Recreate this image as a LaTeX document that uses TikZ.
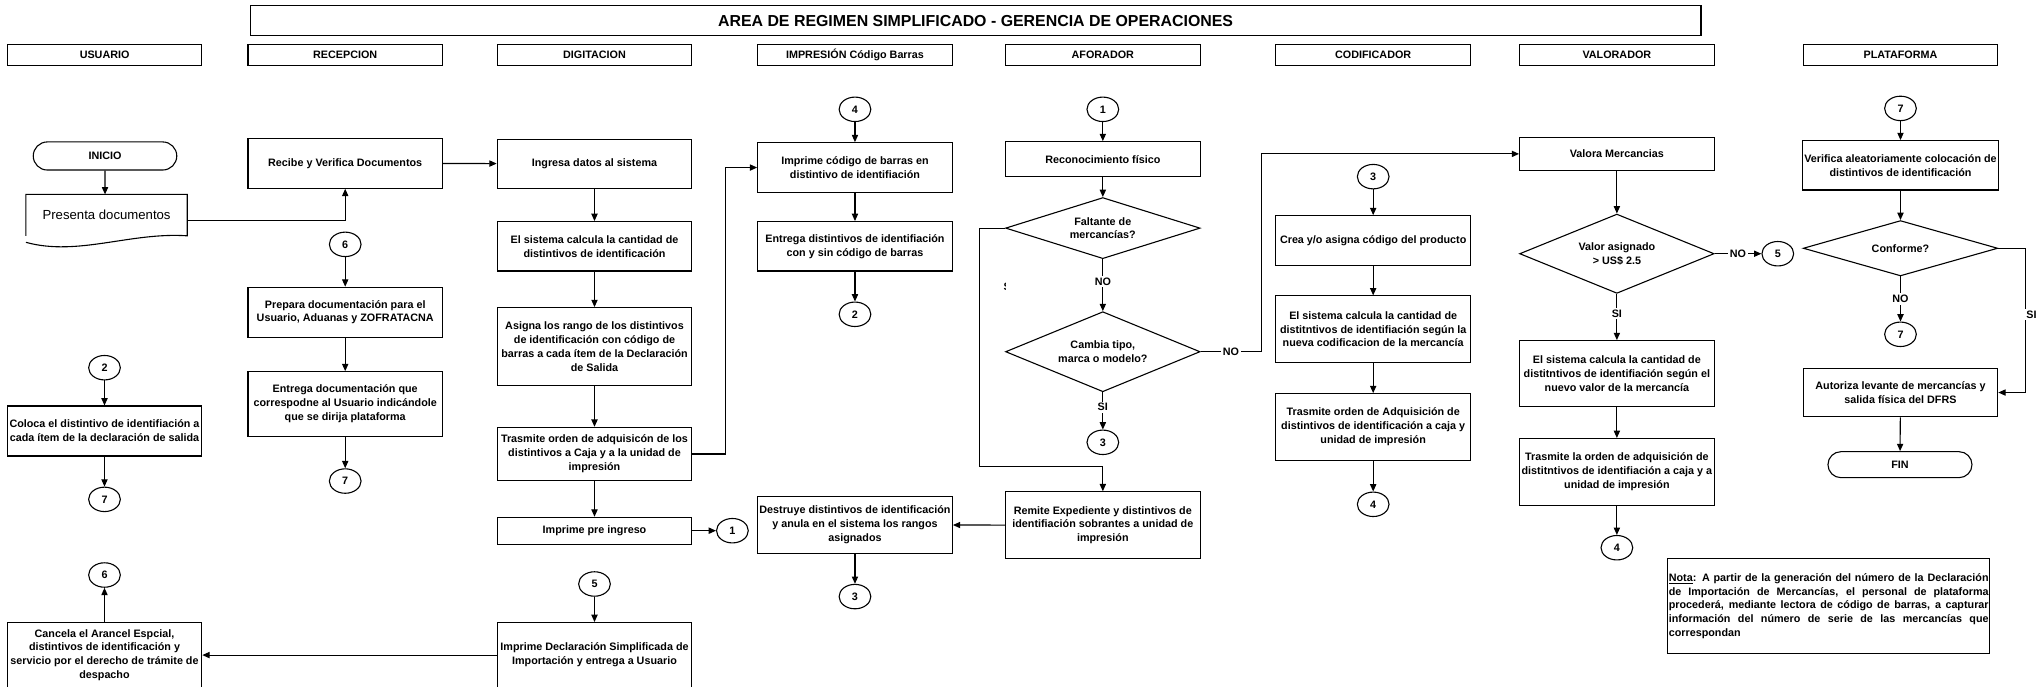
\documentclass[tikz,border=0pt]{standalone}
\usepackage{fontspec}
\setmainfont{Liberation Sans}
\usepackage{tikz}
\usetikzlibrary{shapes.geometric,shapes.misc,arrows.meta}
\newcommand{\fb}{\fontsize{5.9}{7.6}\selectfont\bfseries}

\tikzset{
	box/.style={draw, minimum width=3.74cm, inner sep=1pt, align=center, font=\fb},
	hdr/.style={draw, minimum width=3.74cm, minimum height=0.41cm, inner sep=1pt, font=\fb},
	dec/.style={draw, diamond, minimum width=3.74cm, inner sep=0pt, align=center, font=\fb},
	con/.style={draw, ellipse, minimum width=0.61cm, minimum height=0.47cm, inner sep=0pt, font=\fb},
	term/.style={draw, rounded rectangle, minimum width=2.83cm, minimum height=0.54cm, inner sep=1pt, font=\fb},
	lbl/.style={fill=white, inner sep=1pt, font=\fb}
}

\begin{document}
\begin{tikzpicture}[x=0.025cm, y=-0.025cm, line width=0.6pt, >={Triangle[length=4pt,width=3.4pt]}]
	\useasboundingbox (0,0) rectangle (1568,528);
	
	\node[draw, minimum width=27.9cm, minimum height=0.575cm, font=\fontsize{8.7}{10}\selectfont\bfseries] at (750.6,16) (tit) {AREA DE REGIMEN SIMPLIFICADO - GERENCIA DE OPERACIONES};
	
	\foreach \x/\t [count=\i] in {80.5/USUARIO, 265.6/RECEPCION, 457.4/DIGITACION, 657.8/IMPRESIÓN Código Barras, 848.5/AFORADOR, 1056.5/CODIFICADOR, 1244/VALORADOR, 1462.2/PLATAFORMA}
		\node[hdr] at (\x,42.2) (h\i) {\t};
	
	% usuario
	\node[term] at (80.8,120) (ini) {INICIO};
	\node[font=\fontsize{7.2}{8.6}\selectfont, minimum width=3.08cm, minimum height=0.775cm, inner sep=0pt] at (82,165.5) (pres) {Presenta documentos};
	\draw (pres.south west) -- (pres.north west) -- (pres.north east) -- (pres.south east)
		.. controls +(-1.09cm,0.075cm) and +(0.99cm,-0.275cm) .. ([yshift=-0.125cm]pres.south west);
	\node[con] at (80.4,282.9) (u2) {2};
	\node[box, minimum height=0.96cm] at (80.4,331.6) (u1) {Coloca el distintivo de identifiación a\\cada ítem de la declaración de salida};
	\node[con] at (80.4,384.2) (u7) {7};
	\node[con] at (80.4,442.4) (u6) {6};
	\node[box, minimum height=1.25cm] at (80.4,504) (u3) {Cancela el Arancel Espcial,\\distintivos de identificación y\\servicio por el derecho de trámite de\\despacho};
	
	% recepcion
	\node[box, minimum height=0.96cm] at (265.6,125.6) (r1) {Recibe y Verifica Documentos};
	\node[con] at (265.6,188) (r6) {6};
	\node[box, minimum height=0.96cm] at (265.6,240.2) (r2) {Prepara documentación para el\\Usuario, Aduanas y ZOFRATACNA};
	\node[box, minimum height=1.24cm] at (265.6,310.8) (r3) {Entrega documentación que\\correspodne al Usuario indicándole\\que se dirija plataforma};
	\node[con] at (265.6,370.1) (r7) {7};
	
	% digitacion
	\node[box, minimum height=0.95cm] at (457.4,126) (d1) {Ingresa datos al sistema};
	\node[box, minimum height=0.95cm] at (457.4,189.5) (d2) {El sistema calcula la cantidad de\\distintivos de identificación};
	\node[box, minimum height=1.5cm] at (457.4,266.7) (d3) {Asigna los rango de los distintivos\\de identificación con código de\\barras a cada ítem de la Declaración\\de Salida};
	\node[box, minimum height=1.025cm] at (457.4,349.3) (d4) {Trasmite orden de adquisicón de los\\distintivos a Caja y a la unidad de\\impresión};
	\node[box, minimum height=0.515cm] at (457.4,408.3) (d5) {Imprime pre ingreso};
	\node[con] at (563.5,408.3) (d1c) {1};
	\node[con] at (457.4,449.3) (d5c) {5};
	\node[box, minimum height=1.25cm] at (457.4,504) (d6) {Imprime Declaración Simplificada de\\Importación y entrega a Usuario};
	
	% impresion
	\node[con] at (657.8,84.1) (i4) {4};
	\node[box, minimum height=0.955cm] at (657.8,128.9) (i1) {Imprime código de barras en\\distintivo de identifiación};
	\node[box, minimum height=0.95cm] at (657.8,189.5) (i2) {Entrega distintivos de identifiación\\con y sin código de barras};
	\node[con] at (657.8,241.8) (i2c) {2};
	\node[box, minimum height=1.09cm] at (657.8,403.9) (i3) {Destruye distintivos de identificación\\y anula en el sistema los rangos\\asignados};
	\node[con] at (657.8,459) (i3c) {3};
	
	% aforador
	\node[con] at (848.5,84.1) (a1c) {1};
	\node[box, minimum height=0.675cm] at (848.5,122.5) (a1) {Reconocimiento físico};
	\node[dec, aspect=3.2, minimum height=1.175cm] at (848.5,175.5) (a2) {Faltante de\\mercancías?};
	\node[dec, aspect=2.4, minimum height=1.54cm] at (848.5,270.6) (a3) {Cambia tipo,\\marca o modelo?};
	\node[con] at (848.5,340.3) (a3c) {3};
	\node[box, minimum height=1.28cm] at (848.5,404) (a4) {Remite Expediente y distintivos de\\identifiación sobrantes a unidad de\\impresión};
	\begin{scope}
		\clip (769,215) rectangle (773.5,229);
		\node[font=\fb, inner sep=0pt] at (776,221) (a2s) {SI};
	\end{scope}
	
	% codificador
	\node[con] at (1056.5,135.9) (k3c) {3};
	\node[box, minimum height=0.95cm] at (1056.5,185) (k1) {Crea y/o asigna código del producto};
	\node[box, minimum height=1.28cm] at (1056.5,253.3) (k2) {El sistema calcula la cantidad de\\distitntivos de identifiación según la\\nueva codificacion de la mercancía};
	\node[box, minimum height=1.28cm] at (1056.5,328.5) (k3) {Trasmite orden de Adquisición de\\distintivos de identificación a caja y\\unidad de impresión};
	\node[con] at (1056.5,388) (k4c) {4};
	
	% valorador
	\node[box, minimum height=0.625cm] at (1244,118.4) (v1) {Valora Mercancias};
	\node[dec, aspect=2.45, minimum height=1.525cm] at (1244,195.2) (v2) {Valor asignado\\> US\$ 2.5};
	\node[con] at (1367.8,195.2) (v5c) {5};
	\node[box, minimum height=1.27cm] at (1244,287.5) (v3) {El sistema calcula la cantidad de\\distitntivos de identifiación según el\\nuevo valor de la mercancía};
	\node[box, minimum height=1.28cm] at (1244,363) (v4) {Trasmite la orden de adquisición de\\distitntivos de identifiación a caja y a\\unidad de impresión};
	\node[con] at (1244,421.4) (v4c) {4};
	
	% plataforma
	\node[con] at (1462.2,83.4) (p7c) {7};
	\node[box, minimum height=0.95cm] at (1462.2,127.2) (p1) {Verifica aleatoriamente colocación de\\distintivos de identificación};
	\node[dec, aspect=3.5, minimum height=1.065cm] at (1462.2,191) (p2) {Conforme?};
	\node[con] at (1462.2,257.2) (p7d) {7};
	\node[box, minimum height=0.93cm] at (1462.2,302) (p3) {Autoriza levante de mercancías y\\salida física del DFRS};
	\node[term, minimum width=2.84cm, minimum height=0.5cm] at (1461.8,357.5) (fin) {FIN};
	\node[draw, text width=6.15cm, inner xsep=0.5pt, minimum height=1.825cm, align=justify, font=\fb] at (1407,466.3) (nota) {\underline{Nota}: A partir de la generación del número de la Declaración\linebreak de Importación de Mercancías, el personal de plataforma\linebreak procederá, mediante lectora de código de barras, a capturar\linebreak información del número de serie de las mercancías que\linebreak correspondan};
	
	\draw[->] (ini) -- (ini |- pres.north);
	\draw[->] ([yshift=-0.095cm]pres.east) -| (r1.south);
	\draw[->] (r1) -- (d1);
	\draw[->] (u2) -- (u1);
	\draw[->] (u1) -- (u7);
	\draw[->] (u3) -- (u6);
	\draw[->] (r6) -- (r2);
	\draw[->] (r2) -- (r3);
	\draw[->] (r3) -- (r7);
	\draw[->] (d1) -- (d2);
	\draw[->] (d2) -- (d3);
	\draw[->] (d3) -- (d4);
	\draw[->] (d4) -- (d5);
	\draw[->] (d5) -- (d1c);
	\draw[->] (d4.east) -- ++(25.6,0) |- (i1.west);
	\draw[->] (d5c) -- (d6);
	\draw[->] (d6) -- (u3);
	\draw[->] (i4) -- (i1);
	\draw[->] (i1) -- (i2);
	\draw[->] (i2) -- (i2c);
	\draw[->] (i3) -- (i3c);
	\draw[->] (a1c) -- (a1);
	\draw[->] (a1) -- (a2);
	\draw[->] (a2) -- node[lbl, pos=0.43] {NO} (a3);
	\draw[->] (a3) -- node[lbl, pos=0.4] {SI} (a3c);
	\draw[->] (a2.west) -- ++(-19.75,0) -- ++(0,183.5) -| (a4.north);
	\draw[->] (a3.east) -- node[lbl] {NO} ++(46.5,0) |- (v1.west);
	\draw[->] (a4) -- (i3);
	\draw[->] (k3c) -- (k1);
	\draw[->] (k1) -- (k2);
	\draw[->] (k2) -- (k3);
	\draw[->] (k3) -- (k4c);
	\draw[->] (v1) -- (v2);
	\draw[->] (v2) -- node[lbl] {NO} (v5c);
	\draw[->] (v2) -- node[lbl, pos=0.42] {SI} (v3);
	\draw[->] (v3) -- (v4);
	\draw[->] (v4) -- (v4c);
	\draw[->] (p7c) -- (p1);
	\draw[->] (p1) -- (p2);
	\draw[->] (p2) -- node[lbl] {NO} (p7d);
	\draw[->] (p2.east) -- ++(20.8,0) |- node[lbl, pos=0.23, xshift=0.12cm] {SI} (p3.east);
	\draw[->] (p3) -- (fin);
\end{tikzpicture}
\end{document}
